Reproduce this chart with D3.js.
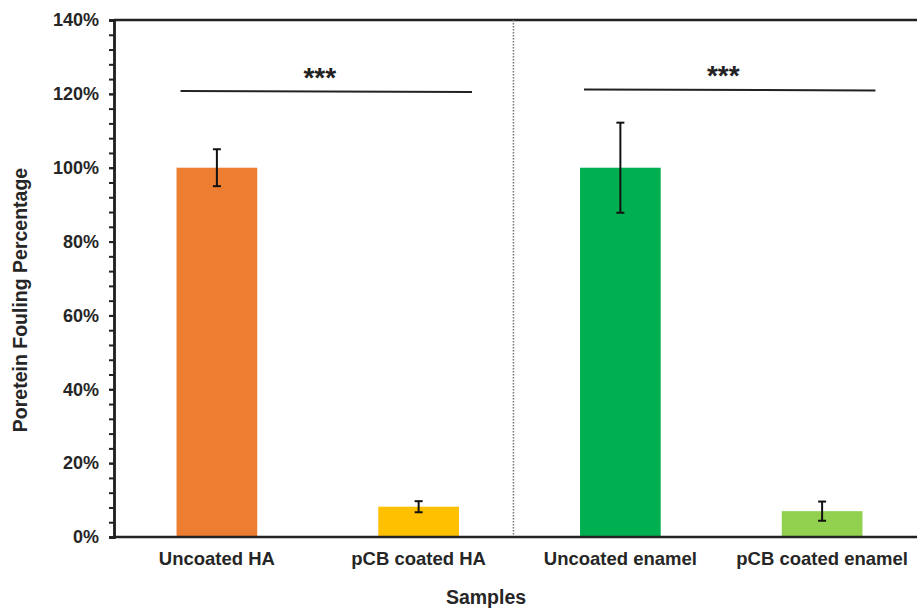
<!DOCTYPE html>
<html>
<head>
    <meta charset="utf-8">
    <style>
        body { margin: 0; background: #fff; }
        svg { display: block; font-family: 'Liberation Sans', Arial, Helvetica, sans-serif; }
        .y .domain { stroke: #222; stroke-width: 2.5px; }
        .y .tick line { stroke: #222; stroke-width: 2px; }
        .y .tick text { font-size: 18px; font-weight: 700; fill: #262626; }
        .x-label { font-size: 18.5px; font-weight: 700; fill: #262626; }
        .axis-title { font-size: 19.5px; font-weight: 700; fill: #262626; }
        .stars { font-size: 28px; font-weight: 700; fill: #222; }
    </style>
    <title>Protein fouling</title>
</head>
<body>
<svg width="917" height="610"></svg>

<script src="https://cdn.jsdelivr.net/npm/d3@7"></script>
<script>
    // data
    let samples = ["Uncoated HA", "pCB coated HA", "Uncoated enamel", "pCB coated enamel"]
    let fouling = [100, 8.2, 100, 7.0]          // %
    let errors = [5.0, 1.5, 12.2, 2.6]          // +/- %
    let colors = ["#ED7D31", "#FFC000", "#00B050", "#92D050"]
    let majorTicks = [0, 20, 40, 60, 80, 100, 120, 140]
    // significance brackets: from sample, to sample, y at start, y at end
    let brackets = [
        { from: "Uncoated HA", to: "pCB coated HA", y0: 120.8, y1: 120.5, label: "***" },
        { from: "Uncoated enamel", to: "pCB coated enamel", y0: 121.2, y1: 120.9, label: "***" }
    ]

    let margin = { top: 20, left: 114, bottom: 537, right: 925 }
    let svg = d3.select("svg")

    let x = d3.scaleBand()
        .domain(samples)
        .range([margin.left, margin.right])
        .paddingInner(0.6)
        .paddingOuter(0.31)

    let y = d3.scaleLinear()
        .domain([0, 140])
        .range([margin.bottom, margin.top])

    let cx = d => x(d) + x.bandwidth() / 2

    // top frame line
    svg.append("line")
        .attr("x1", margin.left).attr("x2", margin.right)
        .attr("y1", y(140)).attr("y2", y(140))
        .attr("stroke", "#222").attr("stroke-width", 2.5)

    // dotted divider between the HA and enamel groups
    let divX = x(samples[1]) + x.bandwidth() + (x(samples[2]) - x(samples[1]) - x.bandwidth()) * 0.45
    svg.append("line")
        .attr("x1", divX).attr("x2", divX)
        .attr("y1", y(140)).attr("y2", y(0))
        .attr("stroke", "#777").attr("stroke-width", 1.5)
        .attr("stroke-dasharray", "1.5,1.5")

    // bars
    svg.append("g")
        .selectAll("rect")
        .data(samples)
        .join("rect")
        .attr("x", d => x(d))
        .attr("width", x.bandwidth())
        .attr("y", (d, i) => y(fouling[i]))
        .attr("height", (d, i) => y(0) - y(fouling[i]))
        .attr("fill", (d, i) => colors[i])

    // error bars
    let eb = svg.append("g")
        .selectAll("g")
        .data(samples)
        .join("g")
        .attr("stroke", "#111")
        .attr("stroke-width", 2)

    eb.append("line")
        .attr("x1", cx)
        .attr("x2", cx)
        .attr("y1", (d, i) => y(fouling[i] + errors[i]))
        .attr("y2", (d, i) => y(fouling[i] - errors[i]))

    eb.selectAll(".cap")
        .data((d, i) => [fouling[i] + errors[i], fouling[i] - errors[i]].map(v => ({ s: d, v: v })))
        .join("line")
        .attr("class", "cap")
        .attr("x1", d => cx(d.s) - 4)
        .attr("x2", d => cx(d.s) + 4)
        .attr("y1", d => y(d.v))
        .attr("y2", d => y(d.v))

    // bottom axis line
    svg.append("line")
        .attr("x1", margin.left).attr("x2", margin.right)
        .attr("y1", y(0)).attr("y2", y(0))
        .attr("stroke", "#222").attr("stroke-width", 2.5)

    // y axis: minor ticks every 4%
    svg.append("g")
        .attr("class", "y")
        .attr("transform", `translate(${margin.left},0)`)
        .call(d3.axisLeft(y).tickValues(d3.range(0, 141, 4)).tickSize(5).tickFormat(""))
        .call(g => g.selectAll(".tick text").remove())

    svg.append("g")
        .attr("class", "y")
        .attr("transform", `translate(${margin.left},0)`)
        .call(d3.axisLeft(y).tickValues(majorTicks).tickSize(5).tickPadding(10).tickFormat(d => d + "%"))

    // x labels
    svg.append("g")
        .selectAll("text")
        .data(samples)
        .join("text")
        .attr("class", "x-label")
        .attr("x", cx)
        .attr("y", 565)
        .attr("text-anchor", "middle")
        .text(d => d)

    // significance brackets
    let br = svg.append("g")
        .selectAll("g")
        .data(brackets)
        .join("g")

    br.append("line")
        .attr("x1", d => x(d.from) + 4)
        .attr("x2", d => x(d.to) + x.bandwidth() + 13)
        .attr("y1", d => y(d.y0))
        .attr("y2", d => y(d.y1))
        .attr("stroke", "#222")
        .attr("stroke-width", 2)

    br.append("text")
        .attr("class", "stars")
        .attr("x", d => (cx(d.from) + cx(d.to)) / 2 + 2)
        .attr("y", d => y(d.y0) - 4)
        .attr("text-anchor", "middle")
        .text(d => d.label)

    // axis titles
    svg.append("text")
        .attr("class", "axis-title")
        .attr("transform", "translate(27,300) rotate(-90)")
        .attr("text-anchor", "middle")
        .text("Poretein Fouling Percentage")

    svg.append("text")
        .attr("class", "axis-title")
        .attr("x", 486)
        .attr("y", 604)
        .attr("text-anchor", "middle")
        .text("Samples")
</script>
</body>
</html>
